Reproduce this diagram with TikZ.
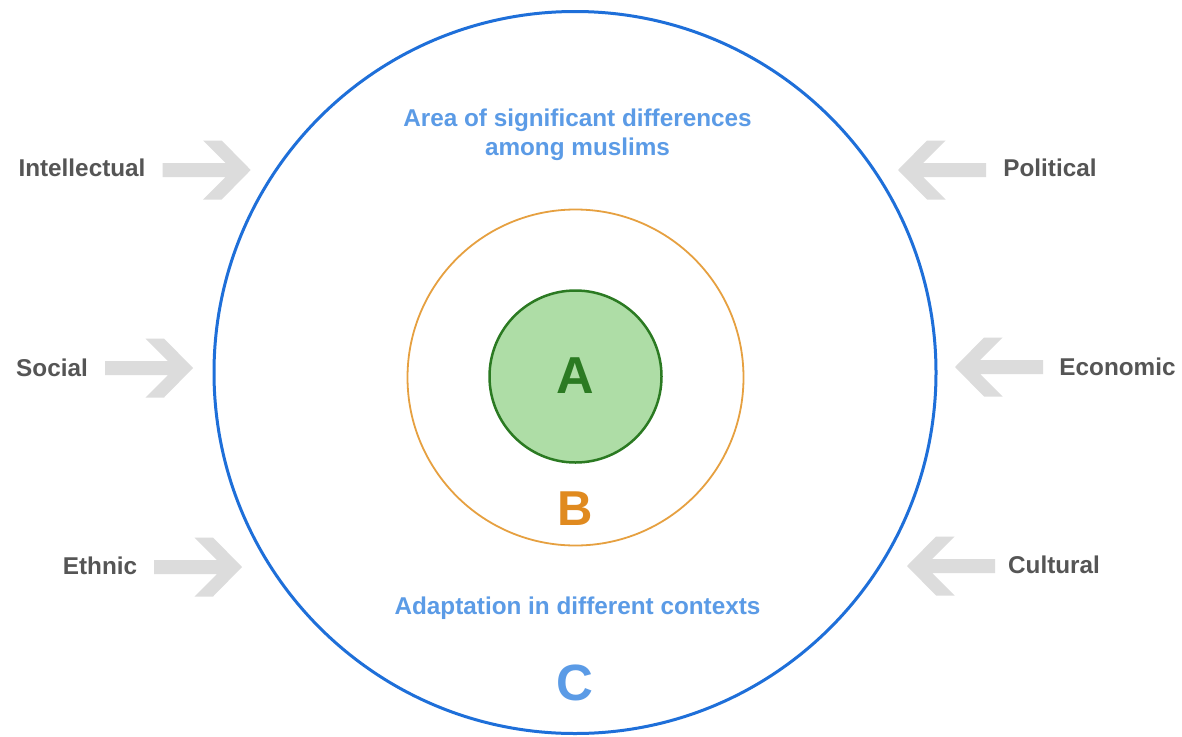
\documentclass[tikz,border=0pt]{standalone}
\usepackage{fontspec}
\setmainfont{Liberation Sans}
\definecolor{cblue}{HTML}{1E6FD9}
\definecolor{tblue}{HTML}{5B9BE6}
\definecolor{corange}{HTML}{E6A040}
\definecolor{torange}{HTML}{E08A1F}
\definecolor{gfill}{HTML}{AEDDA6}
\definecolor{gline}{HTML}{2B7A22}
\definecolor{agray}{HTML}{DCDCDC}
\definecolor{lgray}{HTML}{555555}
\begin{document}
\begin{tikzpicture}[x=1pt,y=-1pt,
  lbl/.style={anchor=base,inner sep=0,text=lgray,font=\bfseries\fontsize{24.3}{29}\selectfont},
  blbl/.style={anchor=base,inner sep=0,text=tblue,font=\bfseries\fontsize{24.3}{29}\selectfont,align=center},
  big/.style={anchor=base,inner sep=0,font=\bfseries\fontsize{52}{52}\selectfont},
  fatarrow/.pic={\fill[agray] (-88,-7) -- (-25,-7) -- (-47.5,-29.5) -- (-29,-29.5) -- (0,0) -- (-29,29.5) -- (-47.5,29.5) -- (-25,7) -- (-88,7) -- cycle;}
]
\useasboundingbox (0,0) rectangle (1182,736);
\fill[white] (0,0) rectangle (1182,736);
% circles
\node[circle,draw=cblue,line width=3pt,minimum size=722pt,inner sep=0] (Ccirc) at (575,372.5) {};
\node[circle,draw=corange,line width=1.8pt,minimum size=336pt,inner sep=0] (Bcirc) at (575.5,377.5) {};
\node[circle,draw=gline,fill=gfill,line width=2.5pt,minimum size=172pt,inner sep=0] (Acirc) at (575.5,376.5) {};
% letters
\node[big,text=gline] (A) at (575,393.3) {A};
\node[big,text=torange,font=\bfseries\fontsize{49}{49}\selectfont] (B) at (575,525) {B};
\node[big,text=tblue,font=\bfseries\fontsize{51}{51}\selectfont] (C) at (575,700.7) {C};
% blue texts
\node[blbl] (t1) at (577.5,126.7) {Area of significant differences};
\node[blbl] (t2) at (577.5,155.7) {among muslims};
\node[blbl] (t3) at (577.5,614.3) {Adaptation in different contexts};
% labels
\node[lbl] (intel) at (82,176.7) {Intellectual};
\node[lbl] (pol) at (1050,176.7) {Political};
\node[lbl] (soc) at (52,376.2) {Social};
\node[lbl] (eco) at (1117.5,375.7) {Economic};
\node[lbl] (eth) at (100,574) {Ethnic};
\node[lbl] (cul) at (1054,573.3) {Cultural};
% arrows
\pic at (250.7,170) {fatarrow};
\pic at (193,368) {fatarrow};
\pic at (242,567) {fatarrow};
\pic[xscale=-1] at (898,170) {fatarrow};
\pic[xscale=-1] at (955,367) {fatarrow};
\pic[xscale=-1] at (907,566) {fatarrow};
\end{tikzpicture}
\end{document}
